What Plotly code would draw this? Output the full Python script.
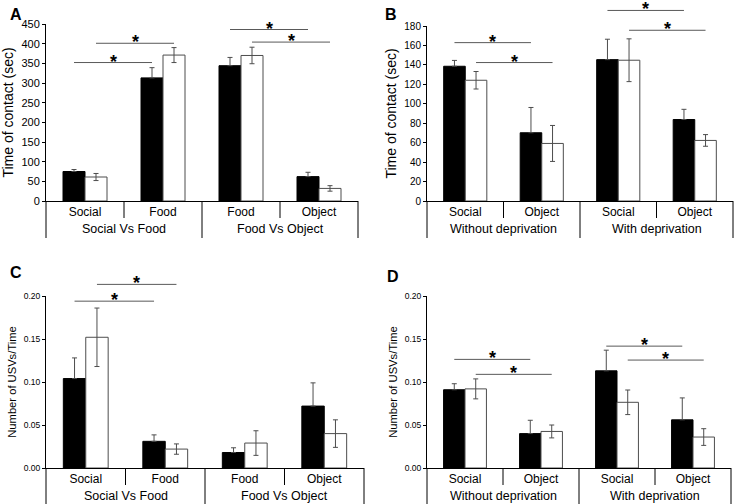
import plotly.graph_objects as go
from plotly.subplots import make_subplots

W, H = 735, 504
FONT = "Liberation Sans, Arial, sans-serif"

# ---- data ----
# panel A: time of contact, two-choice tests
a_inner = ["Social", "Food", "Food", "Object"]
a_outer = ["Social Vs Food", "Food Vs Object"]
a_black = [75, 313, 344, 62]
a_black_err = [5, 26, 21, 11]
a_white = [61, 371, 370, 32]
a_white_err = [9, 19, 21, 7]
# significance bars: (from category, to category, bar side, height)
a_sig = [(0, 1, "b", 352), (0, 1, "w", 401), (2, 3, "b", 436), (2, 3, "w", 404)]

# panel B: time of contact, deprivation
b_inner = ["Social", "Object", "Social", "Object"]
b_outer = ["Without deprivation", "With deprivation"]
b_black = [138.6, 70.2, 145.4, 83.8]
b_black_err = [6, 26, 21, 10.5]
b_white = [124.2, 59.2, 144.8, 62.3]
b_white_err = [9, 18.5, 22, 6]
b_sig = [(0, 1, "b", 162.9), (0, 1, "w", 142.4), (2, 3, "b", 196), (2, 3, "w", 175.6)]

# panel C: USVs, two-choice tests
c_black = [0.104, 0.031, 0.018, 0.072]
c_black_err = [0.024, 0.0075, 0.0055, 0.027]
c_white = [0.152, 0.022, 0.029, 0.040]
c_white_err = [0.034, 0.006, 0.0143, 0.016]
c_sig = [(0, 1, "b", 0.194), (0, 1, "w", 0.2135)]

# panel D: USVs, deprivation
d_black = [0.091, 0.040, 0.113, 0.056]
d_black_err = [0.007, 0.0155, 0.024, 0.0255]
d_white = [0.092, 0.0425, 0.0764, 0.036]
d_white_err = [0.0116, 0.0075, 0.0143, 0.0097]
d_sig = [(0, 1, "b", 0.1263), (0, 1, "w", 0.1089), (2, 3, "b", 0.1417), (2, 3, "w", 0.1255)]

BARGAP = 0.436
HALF = (1 - BARGAP) / 4  # offset of each bar centre from the category centre

# panel geometry in pixels: left, right, top, bottom of plot area, divider depth
panels = [
    dict(letter="A", inner=a_inner, outer=a_outer, black=a_black, berr=a_black_err,
         white=a_white, werr=a_white_err, sig=a_sig, ymax=450, dtick=50, fmt="",
         ytitle="Time of contact (sec)", box=(46, 358, 24, 201), depth=37,
         tfs=11, yfs=14, lx=8, ly=4),
    dict(letter="B", inner=b_inner, outer=b_outer, black=b_black, berr=b_black_err,
         white=b_white, werr=b_white_err, sig=b_sig, ymax=180, dtick=20, fmt="",
         ytitle="Time of contact (sec)", box=(427, 733, 26, 201), depth=37,
         tfs=10, yfs=14, lx=383, ly=4),
    dict(letter="C", inner=a_inner, outer=a_outer, black=c_black, berr=c_black_err,
         white=c_white, werr=c_white_err, sig=c_sig, ymax=0.20, dtick=0.05, fmt=".2f",
         ytitle="Number of USVs/Time", box=(46, 364, 296, 468), depth=38,
         tfs=8.5, yfs=11.2, lx=8, ly=262),
    dict(letter="D", inner=b_inner, outer=b_outer, black=d_black, berr=d_black_err,
         white=d_white, werr=d_white_err, sig=d_sig, ymax=0.20, dtick=0.05, fmt=".2f",
         ytitle="Number of USVs/Time", box=(427, 731, 296, 468), depth=38,
         tfs=8.5, yfs=11.2, lx=385, ly=266),
]

fig = make_subplots(rows=2, cols=2)
shapes, annotations = [], []
cats = [0, 1, 2, 3]

for k, p in enumerate(panels):
    row, col = k // 2 + 1, k % 2 + 1
    sfx = "" if k == 0 else str(k + 1)
    xa, ya = "x" + sfx, "y" + sfx
    left, right, top, bottom = p["box"]
    ph = bottom - top

    fig.add_trace(go.Bar(x=cats, y=p["black"], marker=dict(color="black", line=dict(color="black", width=1)),
                         error_y=dict(type="data", array=p["berr"], arrayminus=[0] * 4, symmetric=False,
                                      color="#4d4d4d", thickness=1, width=2.5),
                         showlegend=False), row=row, col=col)
    fig.add_trace(go.Bar(x=cats, y=p["white"], marker=dict(color="white", line=dict(color="#4d4d4d", width=1)),
                         error_y=dict(type="data", array=p["werr"], color="#4d4d4d", thickness=1, width=2.5),
                         showlegend=False), row=row, col=col)

    fig.update_xaxes(domain=[left / W, right / W], range=[-0.5, 3.5], tickvals=cats, ticktext=p["inner"],
                     showline=True, linecolor="black", linewidth=1, ticks="", showgrid=False, zeroline=False,
                     tickfont=dict(size=12, color="black"), automargin=False, fixedrange=True,
                     row=row, col=col)
    fig.update_yaxes(domain=[1 - bottom / H, 1 - top / H], range=[0, p["ymax"]], dtick=p["dtick"],
                     tickformat=p["fmt"], showline=True, linecolor="black", linewidth=1, ticks="outside",
                     ticklen=3, tickcolor="black", showgrid=False, zeroline=False, automargin=False,
                     tickfont=dict(size=p["tfs"], color="black"), fixedrange=True,
                     title=dict(text=p["ytitle"], font=dict(size=p["yfs"], color="black"), standoff=4),
                     row=row, col=col)

    # category dividers below the axis
    short = -17 / ph
    deep = -p["depth"] / ph
    for xv in [0.5, 2.5]:
        shapes.append(dict(type="line", xref=xa, yref=ya + " domain", x0=xv, x1=xv, y0=0, y1=short,
                           line=dict(color="black", width=1)))
    shapes.append(dict(type="line", xref=xa, yref=ya + " domain", x0=1.5, x1=1.5, y0=0, y1=deep,
                       line=dict(color="black", width=1)))
    for xv in [0, 1]:
        shapes.append(dict(type="line", xref=xa + " domain", yref=ya + " domain", x0=xv, x1=xv, y0=0, y1=deep,
                           line=dict(color="black", width=1)))
    for j, name in enumerate(p["outer"]):
        annotations.append(dict(x=0.5 + 2 * j, y=0, xref=xa, yref=ya + " domain", text=name,
                                showarrow=False, yanchor="middle", yshift=-28,
                                font=dict(size=12.5, color="black")))

    # significance bars
    for c0, c1, side, yv in p["sig"]:
        off = -HALF if side == "b" else HALF
        fy = yv / p["ymax"]
        shapes.append(dict(type="line", xref=xa, yref=ya + " domain", x0=c0 + off, x1=c1 + off, y0=fy, y1=fy,
                           line=dict(color="#595959", width=1)))
        annotations.append(dict(x=(c0 + c1) / 2 + off, y=fy, xref=xa, yref=ya + " domain", text="<b>*</b>",
                                showarrow=False, yanchor="middle", yshift=1, borderpad=0,
                                font=dict(size=18, color="black")))

    # panel letter
    annotations.append(dict(x=p["lx"] / W, y=1 - p["ly"] / H, xref="paper", yref="paper",
                            text="<b>" + p["letter"] + "</b>", showarrow=False, xanchor="left",
                            yanchor="top", font=dict(size=16, color="black")))

fig.update_layout(width=W, height=H, margin=dict(l=0, r=0, t=0, b=0),
                  plot_bgcolor="white", paper_bgcolor="white",
                  barmode="group", bargap=BARGAP, bargroupgap=0,
                  font=dict(family=FONT, color="black"),
                  shapes=shapes, annotations=annotations)

# the page body has a default margin; drop it so the figure fills the window
fig.write_html("out.html", config={"displayModeBar": False},
               post_script="document.body.style.margin = '0';")
